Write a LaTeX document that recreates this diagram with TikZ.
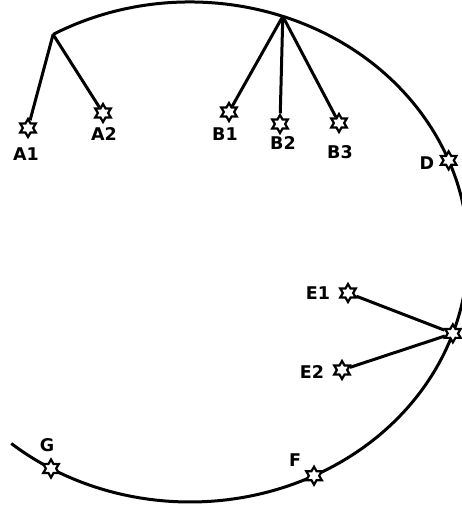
\documentclass[tikz,border=0pt]{standalone}
\usepackage{fontspec}
\setmainfont{DejaVu Sans}
\usetikzlibrary{shapes.geometric}

\begin{document}
\begin{tikzpicture}[x=1pt, y=1pt,
    xing/.style={star, star points=6, star point ratio=1.75, draw, line width=2.2pt,
                 fill=white, minimum size=18pt, inner sep=0pt},
    biao/.style={font=\fontsize{17.5}{20}\selectfont\bfseries, inner sep=0pt},
    xian/.style={line width=3pt}]
    % 画布范围
    \useasboundingbox (0,0) rectangle (462,511);
    \clip (0,0) rectangle (462,511);

    % 大椭圆弧, 中心 O
    \coordinate (O) at (190,259);
    \draw[xian] (O) ++(119.5:278 and 250)
        arc[start angle=119.5, end angle=-130, x radius=278, y radius=250];

    % 弧上的点
    \path (O) ++(119.5:278 and 250) coordinate (ja);
    \path (O) ++(70.5:278 and 250) coordinate (jb);
    \path (O) ++(21.5:278 and 250) coordinate (pd);
    \path (O) ++(-19:278 and 250) coordinate (pe);
    \path (O) ++(-63.5:278 and 250) coordinate (pf);
    \path (O) ++(-120:278 and 250) coordinate (pg);

    % 星
    \node[xing] (a1) at (28,383) {};
    \node[xing] (a2) at (103,398) {};
    \node[xing] (b1) at (229,399) {};
    \node[xing] (b2) at (280,387) {};
    \node[xing] (b3) at (339,388) {};
    \node[xing] (e1) at (348,218) {};
    \node[xing] (e2) at (342,141) {};
    \node[xing] (d) at (pd) {};
    \node[xing] (e) at (pe) {};
    \node[xing] (f) at (pf) {};
    \node[xing] (g) at (pg) {};

    % 连线
    \draw[xian] (ja) -- (a1);
    \draw[xian] (ja) -- (a2);
    \draw[xian] (jb) -- (b1);
    \draw[xian] (jb) -- (b2);
    \draw[xian] (jb) -- (b3);
    \draw[xian] (e) -- (e1);
    \draw[xian] (e) -- (e2);

    % 标注
    \node[biao] (la1) at (26,357) {A1};
    \node[biao] (la2) at (104,377) {A2};
    \node[biao] (lb1) at (225,377) {B1};
    \node[biao] (lb2) at (283,368) {B2};
    \node[biao] (lb3) at (340,359) {B3};
    \node[biao] (ld) at (427,348) {D};
    \node[biao] (le1) at (318,218) {E1};
    \node[biao] (le2) at (312,139) {E2};
    \node[biao] (lf) at (295,51) {F};
    \node[biao] (lg) at (47,66) {G};
\end{tikzpicture}
\end{document}
